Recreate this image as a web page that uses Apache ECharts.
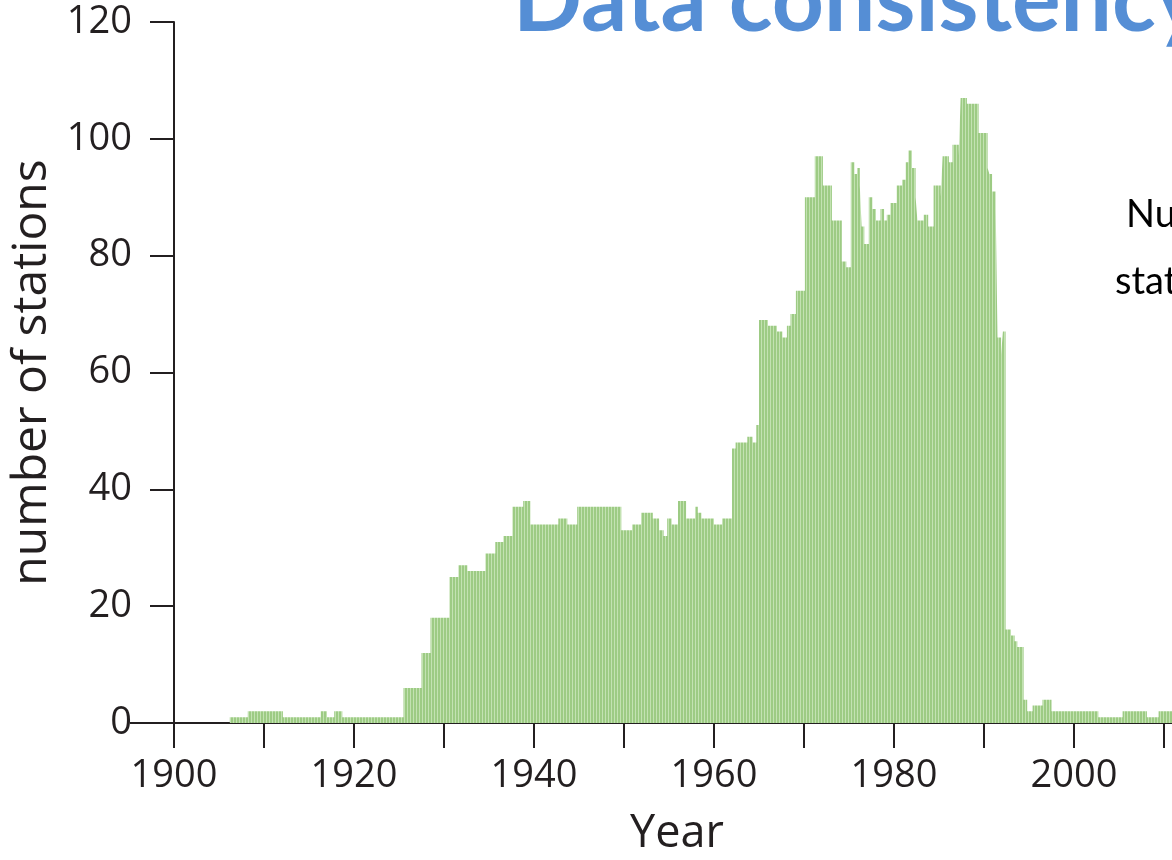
<!DOCTYPE html>
<html>
<head>
<meta charset="utf-8">
<script src="https://cdn.jsdelivr.net/npm/echarts@6/dist/echarts.min.js"></script>
<style>
  html, body { margin: 0; padding: 0; background: #fff; }
  #main { width: 1172px; height: 860px; }
</style>
</head>
<body>
<div id="main"></div>
<script>
// year where a new station count starts (count holds until the next entry)
var stepYears = [
  1906.2, 1908.2, 1912.1, 1916.3, 1917.0, 1917.8, 1918.7, 1925.5, 1927.5, 1928.5,
  1930.6, 1931.6, 1932.6, 1934.6, 1935.7, 1936.6, 1937.6, 1938.8, 1939.6, 1942.7,
  1943.7, 1944.8, 1949.7, 1950.9, 1951.9, 1953.2, 1953.9, 1954.4, 1954.8, 1955.3,
  1956.0, 1956.9, 1957.9, 1958.2, 1958.6, 1960.0, 1960.9, 1962.0, 1962.4, 1963.7,
  1964.3, 1964.7, 1965.0, 1966.0, 1967.0, 1967.6, 1968.1, 1968.5, 1969.1, 1970.1,
  1971.2, 1972.1, 1973.1, 1974.2, 1974.7, 1975.2, 1975.6, 1975.9, 1976.2, 1976.4,
  1976.7, 1977.2, 1977.6, 1978.0, 1978.5, 1978.9, 1979.2, 1979.6, 1980.3, 1980.9,
  1981.3, 1981.6, 1982.0, 1982.4, 1982.6, 1983.3, 1983.8, 1984.4, 1985.2, 1985.4,
  1986.1, 1986.5, 1987.2, 1987.4, 1988.1, 1989.4, 1990.4, 1990.6, 1990.9, 1991.3,
  1991.5, 1991.9, 1992.1, 1992.4, 1993.0, 1993.4, 1993.7, 1994.4, 1994.8, 1995.4,
  1996.5, 1997.5, 2002.7, 2005.4, 2008.1, 2009.4, 2013.0
];
var stationCounts = [
  1, 2, 1, 2, 1, 2, 1, 6, 12, 18,
  25, 27, 26, 29, 31, 32, 37, 38, 34, 35,
  34, 37, 33, 34, 36, 35, 33, 32, 35, 34,
  38, 35, 37, 36, 35, 34, 35, 47, 48, 49,
  48, 51, 69, 68, 67, 66, 68, 70, 74, 90,
  97, 92, 86, 79, 78, 96, 94, 95, 92, 85,
  82, 90, 88, 86, 88, 86, 87, 89, 92, 93,
  96, 98, 95, 90, 86, 87, 85, 92, 90, 97,
  96, 99, 97, 107, 106, 101, 95, 94, 91, 88,
  66, 63, 67, 16, 15, 14, 13, 4, 2, 3,
  4, 2, 1, 2, 1, 2, 2
];
var yearLabels = [1900, 1920, 1940, 1960, 1980, 2000, 2020];

var ink = '#231f20';
var font = '"Open Sans", sans-serif';

// thin striped fill like the original histogram
var stripe = document.createElement('canvas');
stripe.width = 3;
stripe.height = 4;
var sctx = stripe.getContext('2d');
sctx.fillStyle = '#9dcb84';
sctx.fillRect(0, 0, 3, 4);
sctx.fillStyle = '#c3e2b2';
sctx.fillRect(2, 0, 1, 4);

var chart = echarts.init(document.getElementById('main'), null, { renderer: 'canvas' });

var option = {
  animation: false,
  grid: {
    left: 174, top: 22, width: 1080, height: 701,
    containLabel: false,
    outerBoundsMode: 'none'
  },
  xAxis: {
    type: 'value',
    min: 1900,
    max: 2020,
    interval: 10,
    splitLine: { show: false },
    axisLine: { lineStyle: { color: ink, width: 2 } },
    axisTick: { length: 25, lineStyle: { color: ink, width: 2 } },
    axisLabel: {
      margin: 34,
      fontFamily: font,
      fontSize: 38,
      color: ink,
      formatter: function (v) { return yearLabels.indexOf(v) >= 0 ? String(v) : ''; }
    }
  },
  yAxis: {
    type: 'value',
    min: 0,
    max: 120,
    interval: 20,
    name: 'number of stations',
    nameLocation: 'middle',
    nameGap: 96,
    nameTextStyle: { fontFamily: font, fontSize: 48, color: ink },
    splitLine: { show: false },
    axisLine: { show: true, lineStyle: { color: ink, width: 2 } },
    axisTick: { show: true, length: 24, lineStyle: { color: ink, width: 2 } },
    axisLabel: { margin: 42, fontFamily: font, fontSize: 38, color: ink }
  },
  series: [{
    type: 'line',
    step: 'end',
    showSymbol: false,
    data: stepYears.map(function (y, i) { return [y, stationCounts[i]]; }),
    lineStyle: { width: 0 },
    areaStyle: { color: { image: stripe, repeat: 'repeat' }, opacity: 1 },
    z: 1
  }],
  graphic: [
    {
      type: 'line',
      shape: { x1: 130, y1: 723, x2: 175, y2: 723 },
      style: { stroke: ink, lineWidth: 2 }
    },
    {
      type: 'text', x: 677, y: 834,
      style: {
        text: 'Year', font: '45px "Open Sans", sans-serif', fill: ink,
        textAlign: 'center', textVerticalAlign: 'middle'
      }
    },
    {
      type: 'text', x: 513, y: 2,
      style: {
        text: 'Data consistency', font: 'bold 91px Lato, sans-serif', fill: '#558ed5',
        textAlign: 'left', textVerticalAlign: 'middle'
      }
    },
    {
      type: 'text', x: 1126, y: 215,
      style: {
        text: 'Number of', font: '38px Lato, sans-serif', fill: '#000',
        textAlign: 'left', textVerticalAlign: 'middle'
      }
    },
    {
      type: 'text', x: 1115, y: 282,
      style: {
        text: 'stations', font: '38px Lato, sans-serif', fill: '#000',
        textAlign: 'left', textVerticalAlign: 'middle'
      }
    }
  ]
};

chart.setOption(option);
</script>
</body>
</html>
